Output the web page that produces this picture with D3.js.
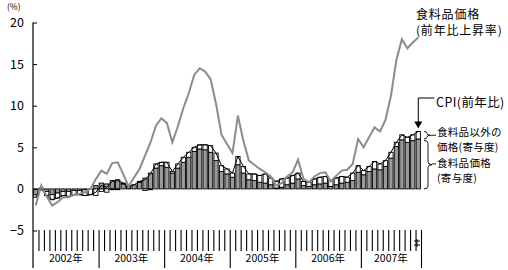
<!DOCTYPE html>
<html>
<head>
<meta charset="utf-8">
<script src="https://cdn.jsdelivr.net/npm/d3@7/dist/d3.min.js"></script>
<style>
  body { margin: 0; background: #fff; }
  text { font-family: "Noto Sans CJK JP", sans-serif; fill: #000; }
</style>
</head>
<body>
<svg id="chart" width="508" height="270"></svg>
<script>
// monthly, Jan 2002 - Nov 2007
var yearLabels = ["2002年", "2003年", "2004年", "2005年", "2006年", "2007年"];

// CPI (y/y, %)
var cpi = [
  -1.0, 0.0, -0.8, -1.3, -1.1, -0.8, -0.9, -0.7, -0.7, -0.8, -0.7, -0.4,
  0.4, 0.2, 0.9, 1.0, 0.7, 0.3, 0.5, 0.9, 1.1, 1.8, 3.0, 3.2,
  3.2, 2.1, 3.0, 3.8, 4.4, 5.0, 5.3, 5.3, 5.2, 4.3, 2.8, 2.4,
  1.9, 3.9, 2.7, 1.8, 1.8, 1.6, 1.8, 1.3, 0.9, 1.2, 1.3, 1.6,
  1.9, 0.9, 0.8, 1.2, 1.4, 1.5, 1.0, 1.3, 1.5, 1.4, 1.9, 2.8,
  2.2, 2.7, 3.3, 3.0, 3.4, 4.4, 5.6, 6.5, 6.2, 6.5, 6.9
];
// food price contribution
var foodContrib = [
  -0.7, 0.1, -0.3, -0.7, -0.5, -0.3, -0.3, -0.2, -0.2, -0.1, 0.0, 0.4,
  0.7, 0.6, 1.0, 1.1, 0.6, 0.1, 0.5, 0.8, 1.3, 1.9, 2.5, 2.8,
  2.6, 1.9, 2.5, 3.2, 3.8, 4.5, 4.8, 4.7, 4.4, 3.4, 2.1, 1.8,
  1.4, 2.9, 1.9, 1.1, 1.0, 0.8, 0.7, 0.5, 0.1, 0.2, 0.5, 0.7,
  1.2, 0.4, 0.3, 0.5, 0.6, 0.7, 0.3, 0.5, 0.7, 0.8, 1.0, 2.0,
  1.7, 2.1, 2.4, 2.3, 2.7, 3.7, 5.1, 5.9, 5.6, 5.8, 6.0
];
// non-food price contribution
var nonFoodContrib = [
  -0.3, -0.1, -0.5, -0.6, -0.6, -0.5, -0.6, -0.5, -0.5, -0.7, -0.7, -0.8,
  -0.3, -0.4, -0.1, -0.1, 0.1, 0.2, 0.0, 0.1, -0.2, -0.1, 0.5, 0.4,
  0.6, 0.2, 0.5, 0.6, 0.6, 0.5, 0.5, 0.6, 0.8, 0.9, 0.7, 0.6,
  0.5, 1.0, 0.8, 0.7, 0.8, 0.8, 1.1, 0.8, 0.8, 1.0, 0.8, 0.9,
  0.7, 0.5, 0.5, 0.7, 0.8, 0.8, 0.7, 0.8, 0.8, 0.6, 0.9, 0.8,
  0.5, 0.6, 0.9, 0.7, 0.7, 0.7, 0.5, 0.6, 0.6, 0.7, 0.9
];
// food prices (y/y, %)
var foodYoY = [
  -2.0, 0.4, -0.9, -2.0, -1.6, -1.0, -1.0, -0.7, -0.6, -0.4, 0.0, 1.2,
  2.2, 1.8, 3.1, 3.2, 1.8, 0.3, 1.4, 2.4, 4.0, 5.6, 7.6, 8.5,
  7.9, 5.6, 7.5, 9.7, 11.5, 13.7, 14.5, 14.1, 13.2, 10.2, 6.5, 5.4,
  4.3, 8.8, 5.8, 3.4, 2.9, 2.4, 2.0, 1.5, 0.4, 0.7, 1.5, 2.0,
  3.5, 1.2, 0.8, 1.5, 1.9, 2.0, 0.9, 1.6, 2.2, 2.3, 3.0, 6.0,
  5.0, 6.2, 7.4, 6.9, 8.3, 11.2, 15.5, 18.0, 16.9, 17.6, 18.2
];
var yTicks = [-5, 0, 5, 10, 15, 20];

var n = cpi.length;
var rows = d3.range(n).map(function (i) {
  return { i: i, food: foodContrib[i], nonfood: nonFoodContrib[i] };
});

var svg = d3.select("#chart");

var left = 33, right = 421;
var x = d3.scaleBand().domain(d3.range(n)).range([left, right]).paddingInner(0.22).paddingOuter(0.11);
var xm = d3.scaleLinear().domain([0, n]).range([left, right]); // month boundaries
var y = d3.scaleLinear().domain([-5, 20]).range([230.5, 22.5]);

function cx(i) { return x(i) + x.bandwidth() / 2; }

// stacked bars
var series = d3.stack().keys(["food", "nonfood"]).offset(d3.stackOffsetDiverging)(rows);
var fills = { food: "#9a9a9a", nonfood: "#fff" };

svg.append("g").selectAll("g").data(series).enter().append("g")
  .attr("fill", function (d) { return fills[d.key]; })
  .selectAll("rect").data(function (d) { return d; }).enter().append("rect")
  .attr("x", function (d) { return x(d.data.i); })
  .attr("width", x.bandwidth())
  .attr("y", function (d) { return y(Math.max(d[0], d[1])); })
  .attr("height", function (d) { return Math.abs(y(d[0]) - y(d[1])); })
  .attr("stroke", "#000")
  .attr("stroke-width", 0.9);

// CPI line
var cpiLine = d3.line().x(function (d, i) { return cx(i); }).y(function (d) { return y(d); });
svg.append("path").datum(cpi).attr("d", cpiLine)
  .attr("fill", "none").attr("stroke", "#000").attr("stroke-width", 1);

// food price line
var foodLine = d3.line().x(function (d, i) { return cx(i); }).y(function (d) { return y(d); });
svg.append("path").datum(foodYoY).attr("d", foodLine)
  .attr("fill", "none").attr("stroke", "#8c8c8c").attr("stroke-width", 2)
  .attr("stroke-linejoin", "miter");

// y axis
var yAxis = d3.axisLeft(y).tickValues(yTicks).tickSizeInner(-4).tickSizeOuter(0).tickPadding(9);
var gy = svg.append("g").attr("transform", "translate(" + left + ",0)").call(yAxis);
gy.select(".domain").remove();
gy.selectAll("text").attr("font-size", 12.5).attr("font-family", "DejaVu Sans");
svg.append("line").attr("x1", left).attr("x2", left).attr("y1", y(20)).attr("y2", 268)
  .attr("stroke", "#000").attr("stroke-width", 1.2);

svg.append("text").attr("x", 7).attr("y", 10).attr("font-size", 8.5).text("(%)");

// x axis: month ticks and year dividers
var monthTicks = d3.range(1, n).filter(function (k) { return k % 12 !== 0; });
var yearTicks = d3.range(12, n, 12).concat([n]);

var gm = svg.append("g").attr("transform", "translate(0,230)")
  .call(d3.axisBottom(xm).tickValues(monthTicks).tickSize(21).tickFormat(""));
gm.select(".domain").remove();
gm.selectAll("line").attr("stroke-width", 1.1);

var gyr = svg.append("g").attr("transform", "translate(0,230)")
  .call(d3.axisBottom(xm).tickValues(yearTicks).tickSize(38).tickFormat(""));
gyr.select(".domain").remove();
gyr.selectAll("line").attr("stroke-width", 1.1);

svg.append("g").selectAll("text").data(yearLabels).enter().append("text")
  .attr("x", function (d, k) { return xm((k * 12 + Math.min(k * 12 + 12, n)) / 2); })
  .attr("y", 262)
  .attr("text-anchor", "middle")
  .attr("font-size", 10.5)
  .text(function (d) { return d; });

// axis break mark at the right end
var bx = xm(n);
svg.append("path")
  .attr("d", "M" + (bx - 7) + ",241H" + (bx - 1) + "M" + (bx - 7) + ",245H" + (bx - 1) + "M" + (bx - 4) + ",239V247")
  .attr("stroke", "#000").attr("stroke-width", 1).attr("fill", "none");

// annotations
var last = n - 1;
var lx = cx(last);

function label(x0, y0, lines, size, gap, ls) {
  var t = svg.append("text").attr("x", x0).attr("y", y0).attr("font-size", size)
    .attr("letter-spacing", ls || 0);
  lines.forEach(function (s, k) {
    t.append("tspan").attr("x", x0).attr("dy", k === 0 ? 0 : gap).text(s);
  });
}

label(416, 19, ["食料品価格", "(前年比上昇率)"], 12, 16, 0.8);

// CPI arrow
svg.append("path")
  .attr("d", "M" + (lx + 16) + ",98H" + lx + "V" + (y(cpi[last]) - 9))
  .attr("stroke", "#000").attr("stroke-width", 1).attr("fill", "none");
svg.append("path")
  .attr("d", "M" + (lx - 4) + "," + (y(cpi[last]) - 10) + "L" + (lx + 4) + "," + (y(cpi[last]) - 10) + "L" + lx + "," + (y(cpi[last]) - 3) + "Z")
  .attr("fill", "#000");
svg.append("text").attr("x", 436).attr("y", 107).attr("font-size", 12.5).attr("letter-spacing", 0.4).text("CPI(前年比)");

// braces
function brace(x0, y1, y2, w) {
  var ym = (y1 + y2) / 2, xh = x0 + w / 2, r = Math.min(3, (y2 - y1) / 4);
  return "M" + x0 + "," + y1 + "Q" + xh + "," + y1 + " " + xh + "," + (y1 + r) +
    "V" + (ym - r) + "Q" + xh + "," + ym + " " + (x0 + w) + "," + ym +
    "Q" + xh + "," + ym + " " + xh + "," + (ym + r) +
    "V" + (y2 - r) + "Q" + xh + "," + y2 + " " + x0 + "," + y2;
}
var yTop = y(foodContrib[last] + nonFoodContrib[last]);
var yMid = y(foodContrib[last]);
var y0 = y(0);
svg.append("path").attr("d", brace(424, yTop, yMid, 6))
  .attr("stroke", "#000").attr("stroke-width", 0.9).attr("fill", "none");
svg.append("path").attr("d", brace(424, yMid + 1.5, y0, 8))
  .attr("stroke", "#000").attr("stroke-width", 0.9).attr("fill", "none");
svg.append("path").attr("d", "M430," + ((yTop + yMid) / 2) + "H436")
  .attr("stroke", "#000").attr("stroke-width", 0.9);
svg.append("path").attr("d", "M432," + ((yMid + y0) / 2) + "H436")
  .attr("stroke", "#000").attr("stroke-width", 0.9);

label(437, 136, ["食料品以外の", "価格(寄与度)"], 10.5, 15.2, 0.3);
label(437, 166.6, ["食料品価格", "(寄与度)"], 10.5, 15.2, 0.3);
</script>
</body>
</html>
